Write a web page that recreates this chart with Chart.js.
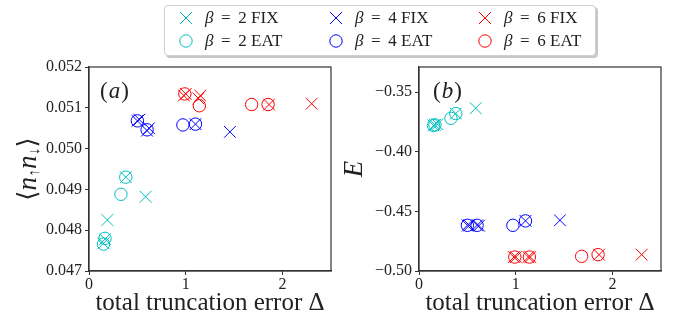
<!DOCTYPE html>
<html>
<head>
<meta charset="utf-8">
<script src="https://cdn.jsdelivr.net/npm/chart.js@4.4.1/dist/chart.umd.min.js"></script>
<style>
  body { margin: 0; background: #fff; }
  #wrap { position: relative; width: 688px; height: 318px; overflow: hidden; }
  #wrap canvas { position: absolute; top: 0; }
  #left { left: 0; }
  #right { left: 344px; }
  #legend {
    position: absolute; left: 164px; top: 5px; width: 430px; height: 49px;
    border: 1px solid #cfcfcf; border-radius: 4px; background: #fff;
    box-shadow: 2px 2px 0 rgba(0,0,0,0.22);
    font-family: "Liberation Serif", serif; font-size: 17px; color: #222;
  }
  .item { position: absolute; height: 20px; line-height: 20px; white-space: nowrap; }
  .item svg { position: absolute; left: 0; top: 0; }
  .item span { position: absolute; left: 29px; top: 0; }
  .item i { font-style: italic; }
</style>
</head>
<body>
<div id="wrap">
  <canvas id="left" width="344" height="318"></canvas>
  <canvas id="right" width="344" height="318"></canvas>
  <div id="legend"></div>
</div>
<script>
// tick labels
const xTicks = [0, 1, 2];
const nTicks = [0.047, 0.048, 0.049, 0.050, 0.051, 0.052];
const eTicks = [-0.50, -0.45, -0.40, -0.35];

// beta = 2
const b2FixDelta = [0.15, 0.165, 0.19, 0.38, 0.585];
const b2FixN = [0.04768, 0.04778, 0.04825, 0.04930, 0.04882];
const b2FixE = [-0.3780, -0.3775, -0.3770, -0.3680, -0.3635];
const b2EatDelta = [0.15, 0.165, 0.33, 0.38];
const b2EatN = [0.04766, 0.04780, 0.04888, 0.04930];
const b2EatE = [-0.3780, -0.3775, -0.3720, -0.3680];

// beta = 4
const b4FixDelta = [0.50, 0.52, 0.60, 0.62, 1.10, 1.456];
const b4FixN = [0.05068, 0.05071, 0.05044, 0.05050, 0.05060, 0.05041];
const b4FixE = [-0.4617, -0.4617, -0.4617, -0.4620, -0.4580, -0.4575];
const b4EatDelta = [0.50, 0.60, 0.97, 1.10];
const b4EatN = [0.05068, 0.05046, 0.05058, 0.05060];
const b4EatE = [-0.4617, -0.4617, -0.4617, -0.4580];

// beta = 6
const b6FixDelta = [0.98, 1.00, 1.13, 1.15, 1.86, 2.30];
const b6FixN = [0.05130, 0.05134, 0.05123, 0.05130, 0.05108, 0.05110];
const b6FixE = [-0.4883, -0.4883, -0.4883, -0.4883, -0.4863, -0.4863];
const b6EatDelta = [0.99, 1.14, 1.68, 1.85];
const b6EatN = [0.05134, 0.05105, 0.05108, 0.05108];
const b6EatE = [-0.4883, -0.4883, -0.4877, -0.4863];

const cyan = '#00bfbf', blue = '#0000ff', red = '#ff0000';

const series = [
  { beta: 2, kind: 'FIX', color: cyan, x: b2FixDelta, n: b2FixN, e: b2FixE },
  { beta: 2, kind: 'EAT', color: cyan, x: b2EatDelta, n: b2EatN, e: b2EatE },
  { beta: 4, kind: 'FIX', color: blue, x: b4FixDelta, n: b4FixN, e: b4FixE },
  { beta: 4, kind: 'EAT', color: blue, x: b4EatDelta, n: b4EatN, e: b4EatE },
  { beta: 6, kind: 'FIX', color: red, x: b6FixDelta, n: b6FixN, e: b6FixE },
  { beta: 6, kind: 'EAT', color: red, x: b6EatDelta, n: b6EatN, e: b6EatE },
];

const serif = '"Liberation Serif", "DejaVu Serif", serif';

function makeSets(key) {
  return series.map(s => ({
    label: 'β = ' + s.beta + ' ' + s.kind,
    data: s.x.map((v, i) => ({ x: v, y: s[key][i] })),
    pointStyle: s.kind === 'FIX' ? 'crossRot' : 'circle',
    pointRadius: s.kind === 'FIX' ? 8.3 : 6.2,
    pointHoverRadius: s.kind === 'FIX' ? 8.3 : 6.2,
    borderColor: s.color,
    backgroundColor: 'rgba(0,0,0,0)',
    pointBorderWidth: 1,
    showLine: false,
  }));
}

// frame + panel label + y title
function decor(panel, drawTitle) {
  return {
    id: 'decor',
    afterDraw(chart) {
      const { ctx, chartArea: a } = chart;
      ctx.save();
      ctx.strokeStyle = '#333';
      ctx.lineWidth = 1.2;
      ctx.strokeRect(a.left, a.top, a.right - a.left, a.bottom - a.top);

      // panel label like (a)
      ctx.fillStyle = '#222';
      ctx.textBaseline = 'middle';
      let px = a.left + panel.dx;
      const py = a.top + 25;
      ctx.font = '23px ' + serif;
      ctx.fillText('(', px, py); px += ctx.measureText('(').width + 1;
      ctx.font = 'italic 23px ' + serif;
      ctx.fillText(panel.letter, px, py); px += ctx.measureText(panel.letter).width + 1;
      ctx.font = '23px ' + serif;
      ctx.fillText(')', px, py);

      drawTitle(ctx, a);
      ctx.restore();
    }
  };
}

function leftTitle(ctx, a) {
  const parts = [
    { t: '⟨', f: '26px ' + serif, dy: 0 },
    { t: 'n', f: 'italic 27px ' + serif, dy: 0 },
    { t: '↑', f: '16px ' + serif, dy: 6 },
    { t: 'n', f: 'italic 27px ' + serif, dy: 0 },
    { t: '↓', f: '16px ' + serif, dy: 6 },
    { t: '⟩', f: '26px ' + serif, dy: 0 },
  ];
  let total = 0;
  parts.forEach(p => { ctx.font = p.f; p.w = ctx.measureText(p.t).width; total += p.w; });
  ctx.translate(29, (a.top + a.bottom) / 2);
  ctx.rotate(-Math.PI / 2);
  ctx.textBaseline = 'middle';
  ctx.fillStyle = '#222';
  let x = -total / 2;
  parts.forEach(p => { ctx.font = p.f; ctx.fillText(p.t, x, p.dy); x += p.w; });
}

function rightTitle(ctx, a) {
  ctx.translate(11, (a.top + a.bottom) / 2);
  ctx.rotate(-Math.PI / 2);
  ctx.textAlign = 'center';
  ctx.textBaseline = 'middle';
  ctx.fillStyle = '#222';
  ctx.font = 'italic 27px ' + serif;
  ctx.fillText('E', 0, 0);
}

function makeChart(id, key, yMin, yMax, yTickVals, yFmt, padding, panel, titleFn) {
  const tickFont = { family: serif, size: 16 };
  return new Chart(document.getElementById(id), {
    type: 'scatter',
    data: { datasets: makeSets(key) },
    options: {
      responsive: false,
      animation: false,
      layout: { padding: padding },
      plugins: { legend: { display: false }, tooltip: { enabled: false } },
      scales: {
        x: {
          type: 'linear', min: 0, max: 2.5,
          afterBuildTicks: s => { s.ticks = xTicks.map(v => ({ value: v })); },
          afterFit: s => { s.height = 47; },
          grid: { drawOnChartArea: false, drawTicks: true, tickLength: 4, tickColor: '#333' },
          border: { display: true, color: '#333', width: 1.2 },
          ticks: { font: tickFont, color: '#222', padding: 0, maxRotation: 0, callback: v => String(v) },
          title: { display: true, text: 'total truncation error Δ', font: { family: serif, size: 25 }, color: '#222', padding: { top: 0, bottom: 0 } },
        },
        y: {
          type: 'linear', min: yMin, max: yMax,
          afterBuildTicks: s => { s.ticks = yTickVals.map(v => ({ value: v })); },
          afterFit: s => { s.width = 60; },
          grid: { drawOnChartArea: false, drawTicks: true, tickLength: 4, tickColor: '#333' },
          border: { display: true, color: '#333', width: 1.2 },
          ticks: { font: tickFont, color: '#222', padding: 3, callback: yFmt },
        },
      },
    },
    plugins: [decor(panel, titleFn)],
  });
}

makeChart('left', 'n', 0.047, 0.052, nTicks, v => v.toFixed(3),
  { left: 29, right: 13, top: 67, bottom: 0 }, { letter: 'a', dx: 11 }, leftTitle);
makeChart('right', 'e', -0.50, -0.329, eTicks, v => v.toFixed(2).replace('-', '−'),
  { left: 15, right: 27, top: 67, bottom: 0 }, { letter: 'b', dx: 14 }, rightTitle);

// the library resets inline styles, so put the canvases back in place
document.getElementById('left').style.position = 'absolute';
document.getElementById('left').style.left = '0px';
document.getElementById('right').style.position = 'absolute';
document.getElementById('right').style.left = '344px';

// legend: 3 columns (beta), 2 rows (FIX, EAT)
const legend = document.getElementById('legend');
const colX = [11, 161, 310];
const rowY = [2, 25];
series.forEach(s => {
  const col = [2, 4, 6].indexOf(s.beta);
  const row = s.kind === 'FIX' ? 0 : 1;
  const mark = s.kind === 'FIX'
    ? '<line x1="4" y1="4" x2="16" y2="16" stroke="' + s.color + '"/><line x1="4" y1="16" x2="16" y2="4" stroke="' + s.color + '"/>'
    : '<circle cx="10" cy="10" r="6.2" fill="none" stroke="' + s.color + '"/>';
  const div = document.createElement('div');
  div.className = 'item';
  div.style.left = colX[col] + 'px';
  div.style.top = rowY[row] + 'px';
  div.innerHTML = '<svg width="20" height="20">' + mark + '</svg>' +
    '<span><i>β</i>&thinsp; = &thinsp;' + s.beta + ' ' + s.kind + '</span>';
  legend.appendChild(div);
});
</script>
</body>
</html>
